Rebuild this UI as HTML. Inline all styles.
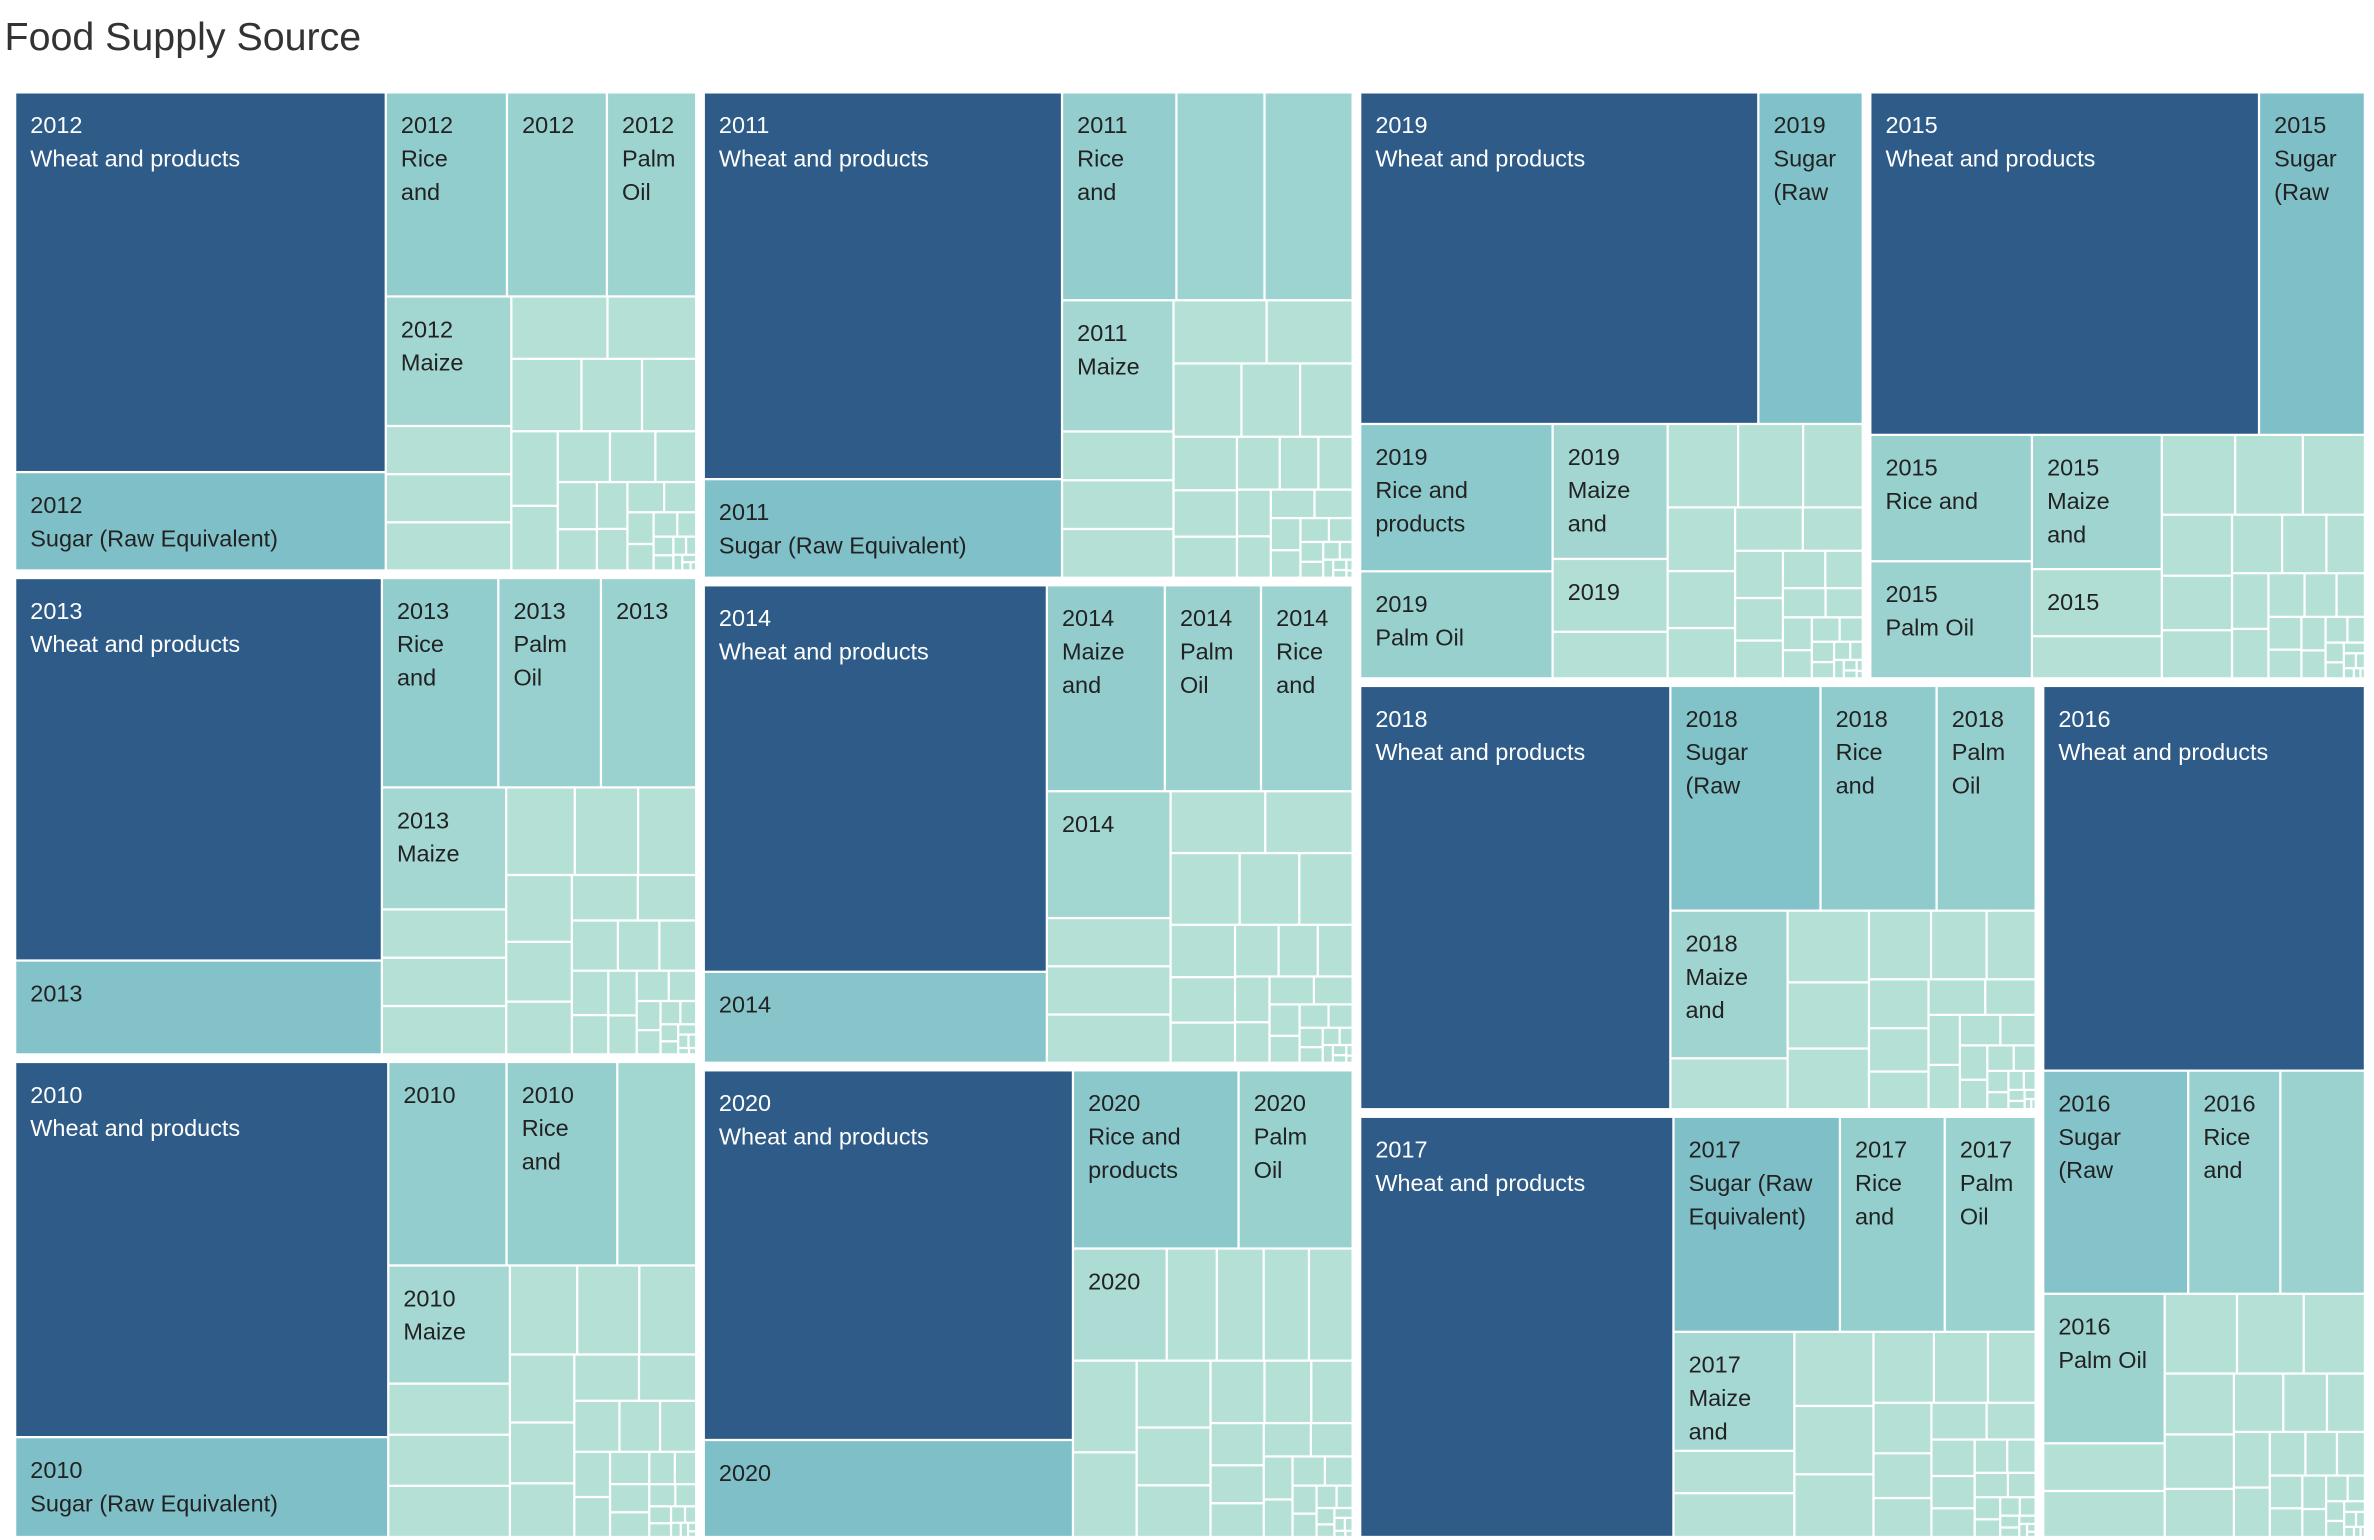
<!DOCTYPE html>
<html><head><meta charset="utf-8">
<style>
html,body{margin:0;padding:0;background:#fff;}
#wrap{width:2374px;height:1540px;position:relative;overflow:hidden;}
svg text{font-family:"Liberation Sans",sans-serif;}
</style></head>
<body>
<div id="wrap">
<svg id="chart" width="2374" height="1540" viewBox="0 0 1568 1017" preserveAspectRatio="none" xmlns="http://www.w3.org/2000/svg">
<text x="3" y="33" font-size="26" fill="#333" style="font-weight:300">Food Supply Source</text>
<g id="tiles"></g>
</svg>
</div>
<script>
const years=[2012,2013,2010,2011,2014,2020,2019,2015,2018,2017,2016];
const yearTotals=[141.6,141.1,140.7,137.0,134.8,131.8,128.2,126.2,124.6,123.7,119.7];
const yearStrips=[3,3,2,2,1];
const v2012=[61000,15800,10720,8840,7900,7050,2620,2620,2620];
const v2013=[60700,14900,10550,9300,8630,6560,2600,2600,2600];
const v2010=[60760,16170,10450,9780,6970,6240,2700,2700,2700];
const v2011=[61200,15600,10500,8090,8090,6460,2400,2400,2400];
const v2014=[58900,13860,10790,8800,8380,6970,2650,2650,2650];
const v2020=[60760,15940,13140,9050,4680,2500,2340,2260,2180];
const v2019=[58400,15320,12540,9110,6870,3710,2370];
const v2015=[59100,16100,9070,8400,7740,3870,2430];
const v2018=[58520,15040,11630,9920,7720,2660];
const v2017=[58380,15880,10000,8670,6380,2270,2350];
const v2016=[55800,14590,9270,8510,8190,2610,2520];
const minorTail=[2600,2400,2200,1900,1700,1500,1300,1150,1000,900,800,700,620,550,480,420,360,300,250,200,160,130,100,80,60,45,30,20];
const l2012=["2012|Wheat and products","2012|Sugar (Raw Equivalent)","2012|Rice|and","2012","2012|Palm|Oil","2012|Maize"];
const l2013=["2013|Wheat and products","2013","2013|Rice|and","2013|Palm|Oil","2013","2013|Maize"];
const l2010=["2010|Wheat and products","2010|Sugar (Raw Equivalent)","2010","2010|Rice|and","","2010|Maize"];
const l2011=["2011|Wheat and products","2011|Sugar (Raw Equivalent)","2011|Rice|and","","","2011|Maize"];
const l2014=["2014|Wheat and products","2014","2014|Maize|and","2014|Palm|Oil","2014|Rice|and","2014"];
const l2020=["2020|Wheat and products","2020","2020|Rice and|products","2020|Palm|Oil","2020"];
const l2019=["2019|Wheat and products","2019|Sugar|(Raw","2019|Rice and|products","2019|Palm Oil","2019|Maize|and","2019"];
const l2015=["2015|Wheat and products","2015|Sugar|(Raw","2015|Rice and","2015|Palm Oil","2015|Maize|and","2015"];
const l2018=["2018|Wheat and products","2018|Sugar|(Raw","2018|Rice|and","2018|Palm|Oil","2018|Maize|and"];
const l2017=["2017|Wheat and products","2017|Sugar (Raw|Equivalent)","2017|Rice|and","2017|Palm|Oil","2017|Maize|and"];
const l2016=["2016|Wheat and products","2016|Sugar|(Raw","2016|Rice|and","","2016|Palm Oil"];
const yearValues=[v2012,v2013,v2010,v2011,v2014,v2020,v2019,v2015,v2018,v2017,v2016];
const yearLabels=[l2012,l2013,l2010,l2011,l2014,l2020,l2019,l2015,l2018,l2017,l2016];
const itemStrips=[[2,3,4],[2,3,4],[2,3,4],[2,3,4],[2,3,4],[2,2,5],[2,2,3],[2,2,3],[1,3,2],[1,3,3],[1,3,3]];

const NS="http://www.w3.org/2000/svg";
const g=document.getElementById('tiles');

function placeStrip(areas,r){
  const s=areas.reduce((a,b)=>a+b,0);const out=[];
  if(r.w>=r.h){const w=s/r.h;let y=r.y;for(const a of areas){const h=a/w;out.push({x:r.x,y:y,w:w,h:h});y+=h;}
    return {rects:out,rest:{x:r.x+w,y:r.y,w:r.w-w,h:r.h}};}
  else{const h=s/r.w;let x=r.x;for(const a of areas){const w=a/h;out.push({x:x,y:r.y,w:w,h:h});x+=w;}
    return {rects:out,rest:{x:r.x,y:r.y+h,w:r.w,h:r.h-h}};}
}
function worst(row,side){const s=row.reduce((a,b)=>a+b,0);let m=0;for(const a of row){const l=s/side,o=a/l;m=Math.max(m,l/o,o/l);}return m;}
function layout(values,rect,strips){
  const total=values.reduce((a,b)=>a+b,0);const k=rect.w*rect.h/total;
  const areas=values.map(v=>v*k);let r={...rect};let res=[];let i=0;
  for(const c of strips){const p=placeStrip(areas.slice(i,i+c),r);res=res.concat(p.rects);r=p.rest;i+=c;}
  while(i<areas.length){const side=Math.min(r.w,r.h);let row=[areas[i]];i++;
    while(i<areas.length&&worst(row.concat(areas[i]),side)<=worst(row,side)){row.push(areas[i]);i++;}
    const p=placeStrip(row,r);res=res.concat(p.rects);r=p.rest;}
  return res;
}
const stops=[[0,[180,224,214]],[3000,[180,224,214]],[7000,[162,214,209]],[10000,[148,206,205]],[13000,[139,200,204]],[16000,[126,191,200]],[50000,[46,91,135]],[1e9,[46,91,135]]];
function colorOf(v){for(let i=0;i<stops.length-1;i++){const a=stops[i],b=stops[i+1];if(v<=b[0]){const t=(v-a[0])/(b[0]-a[0]);const c=a[1].map((x,j)=>Math.round(x+(b[1][j]-x)*t));return 'rgb('+c.join(',')+')';}}return '#2e5b87';}

const yrRects=layout(yearTotals,{x:7.5,y:58.5,w:1557,h:959},yearStrips);
years.forEach((yr,yi)=>{
  const R=yrRects[yi];
  const inner={x:R.x+2.5,y:R.y+2.5,w:R.w-5,h:R.h-5};
  const vals=yearValues[yi].concat(minorTail);
  const rects=layout(vals,inner,itemStrips[yi]);
  const grp=document.createElementNS(NS,'g');
  
  
  g.appendChild(grp);
  rects.forEach((t,ii)=>{
    const rc=document.createElementNS(NS,'rect');
    rc.setAttribute('x',t.x+0.75);rc.setAttribute('y',t.y+0.75);
    rc.setAttribute('width',Math.max(0,t.w-1.5));rc.setAttribute('height',Math.max(0,t.h-1.5));
    rc.setAttribute('fill',colorOf(vals[ii]));
    
    
    grp.appendChild(rc);
    const lab=(yearLabels[yi][ii]||'');
    if(lab){
      const dark=vals[ii]>30000;
      lab.split('|').forEach((line,li)=>{
        const tx=document.createElementNS(NS,'text');
        tx.setAttribute('x',t.x+10);tx.setAttribute('y',t.y+27+li*22);
        tx.setAttribute('font-size','15.5');tx.setAttribute('fill',dark?'#ffffff':'#222');
        
        
        tx.textContent=line;grp.appendChild(tx);
      });
    }
  });
});
</script>
</body></html>
